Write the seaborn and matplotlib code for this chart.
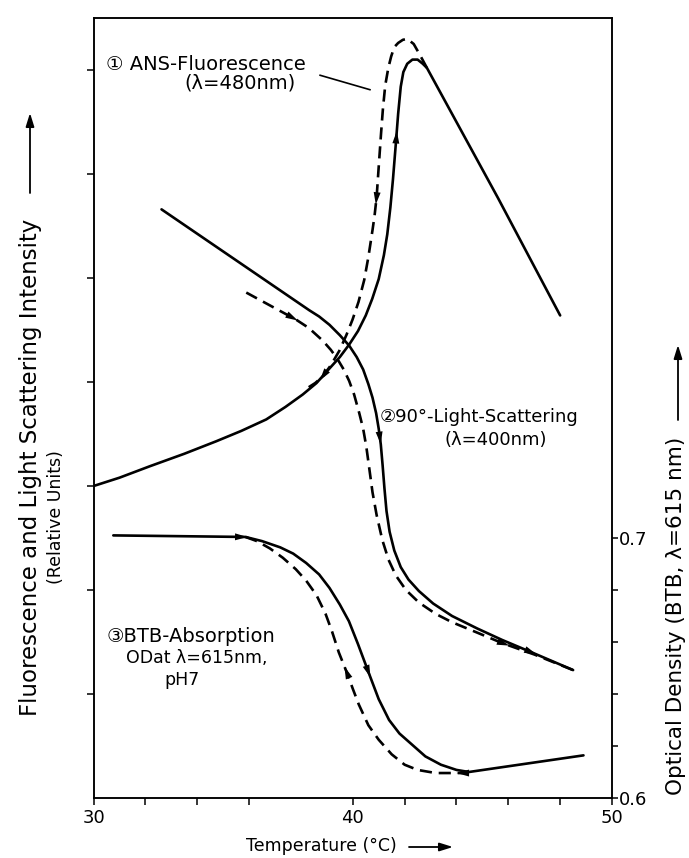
import matplotlib
matplotlib.use("Agg")
import matplotlib.pyplot as plt
import seaborn as sns

# ---------------- data ----------------
temp_ticks = [30, 32, 34, 36, 40, 42, 44, 46, 48, 50]
temp_labels = ["30", "", "", "", "40", "", "", "", "", "50"]
rel_ticks = [1, 2, 3, 4, 5, 6, 7]
od_ticks = [0.6, 0.62, 0.64, 0.66, 0.68, 0.7]
od_labels = ["0.6", "", "", "", "", "0.7"]

# (1) ANS fluorescence, heating (solid), relative units
ans_heat_t = [30.0, 31.0, 32.17, 33.5, 34.73, 35.7, 36.66, 37.4, 38.07, 38.6, 39.1, 39.5,
              39.86, 40.2, 40.5, 40.75, 41.0, 41.2, 41.33, 41.45, 41.55, 41.65, 41.75,
              41.85, 41.95, 42.1, 42.3, 42.5, 42.7, 42.86, 45.6, 48.0]
ans_heat_v = [3.0, 3.08, 3.19, 3.31, 3.43, 3.53, 3.64, 3.76, 3.88, 3.99, 4.13, 4.24,
              4.36, 4.49, 4.64, 4.80, 4.99, 5.22, 5.42, 5.68, 5.95, 6.26, 6.58,
              6.84, 6.98, 7.06, 7.10, 7.10, 7.06, 7.02, 5.77, 4.64]
# (1) ANS fluorescence, cooling (dashed)
ans_cool_t = [42.86, 42.6, 42.35, 42.1, 41.93, 41.75, 41.6, 41.48, 41.37, 41.25, 41.16,
              41.09, 41.0, 40.92, 40.84, 40.76, 40.6, 40.44, 40.22, 39.99, 39.75, 39.48,
              39.15, 38.83, 38.55, 38.3]
ans_cool_v = [7.02, 7.14, 7.25, 7.30, 7.29, 7.26, 7.22, 7.13, 7.02, 6.85, 6.62,
              6.39, 6.07, 5.78, 5.60, 5.46, 5.20, 4.98, 4.77, 4.60, 4.45, 4.30,
              4.16, 4.05, 3.99, 3.95]

# (2) 90 deg light scattering, heating (solid)
sc_heat_t = [32.62, 38.32, 38.7, 39.1, 39.5, 39.86, 40.15, 40.4, 40.6, 40.76, 40.9, 41.0,
             41.08, 41.15, 41.22, 41.3, 41.42, 41.6, 41.85, 42.15, 42.55, 43.1, 43.83,
             44.8, 45.76, 47.0, 48.5]
sc_heat_v = [5.66, 4.69, 4.63, 4.55, 4.45, 4.35, 4.24, 4.12, 3.98, 3.85, 3.70, 3.55,
             3.40, 3.20, 2.98, 2.76, 2.56, 2.38, 2.22, 2.10, 1.99, 1.87, 1.75,
             1.63, 1.52, 1.39, 1.23]
# (2) light scattering, cooling (dashed)
sc_cool_t = [35.89, 37.81, 38.3, 38.83, 39.15, 39.41, 39.65, 39.86, 40.05, 40.25, 40.4,
             40.52, 40.63, 40.76, 40.92, 41.14, 41.38, 41.66, 42.05, 42.55, 43.2, 43.83,
             44.8, 45.76, 47.0, 48.5]
sc_cool_v = [4.86, 4.60, 4.52, 4.40, 4.31, 4.22, 4.12, 4.01, 3.88, 3.70, 3.55,
             3.38, 3.18, 2.94, 2.72, 2.48, 2.29, 2.14, 2.00, 1.88, 1.77, 1.69,
             1.59, 1.49, 1.38, 1.23]

# (3) BTB absorption (OD at 615 nm), heating (solid)
btb_heat_t = [30.76, 35.86, 36.5, 37.2, 37.7, 38.2, 38.7, 39.1, 39.5, 39.85, 40.2, 40.62,
              41.0, 41.4, 41.8, 42.3, 42.8, 43.4, 44.0, 44.48, 48.9]
btb_heat_od = [0.701, 0.7004, 0.6988, 0.6964, 0.694, 0.6904, 0.686, 0.6808, 0.6744, 0.668,
               0.6592, 0.648, 0.638, 0.630, 0.6248, 0.6204, 0.616, 0.6128, 0.6108, 0.610,
               0.6164]
# (3) BTB absorption, cooling (dashed)
btb_cool_t = [35.86, 36.3, 36.8, 37.3, 37.8, 38.2, 38.6, 38.95, 39.2, 39.46, 39.78, 40.0,
              40.23, 40.6, 41.0, 41.5, 42.0, 42.5, 43.2, 44.35]
btb_cool_od = [0.7004, 0.6988, 0.696, 0.6924, 0.688, 0.6836, 0.678, 0.6708, 0.664, 0.656,
               0.648, 0.642, 0.636, 0.628, 0.6224, 0.6168, 0.6128, 0.6108, 0.6096, 0.6096]

# ---------------- style ----------------
sns.set_theme(style="ticks")
plt.rcParams["font.family"] = ["DejaVu Sans"]
plt.rcParams.update({"text.color": "black", "axes.labelcolor": "black",
                     "xtick.color": "black", "ytick.color": "black"})

W, H = 689, 858
fig = plt.figure(figsize=(W / 100, H / 100), dpi=100)
ax = fig.add_axes([93.6 / W, 60 / H, 518.4 / W, 780 / H])
ax2 = ax.twinx()

ax.set_xlim(30, 50)
ax.set_ylim(0, 7.5)
ax2.set_ylim(0.6, 0.9)

LW = 1.9
DASH = (0, (4.6, 2.6))


def line(a, t, v, dashed=False):
    kw = dict(color="black", lw=LW, sort=False, estimator=None, legend=False, ax=a)
    if dashed:
        kw["linestyle"] = DASH
    sns.lineplot(x=t, y=v, **kw)


line(ax, ans_heat_t, ans_heat_v)
line(ax, ans_cool_t, ans_cool_v, dashed=True)
line(ax, sc_heat_t, sc_heat_v)
line(ax, sc_cool_t, sc_cool_v, dashed=True)
line(ax2, btb_heat_t, btb_heat_od)
line(ax2, btb_cool_t, btb_cool_od, dashed=True)


def head(a, t, v, i, f, reverse=False, half=6.0):
    """Arrowhead placed on segment i of a series at fraction f."""
    p0 = a.transData.transform((t[i], v[i]))
    p1 = a.transData.transform((t[i + 1], v[i + 1]))
    d = p1 - p0
    d = d / (d ** 2).sum() ** 0.5
    if reverse:
        d = -d
    c = p0 + f * (p1 - p0)
    inv = a.transData.inverted()
    tip = inv.transform(c + half * d)
    tail = inv.transform(c - half * d)
    a.annotate("", xy=tip, xytext=tail,
               arrowprops=dict(arrowstyle="-|>,head_length=0.9,head_width=0.25",
                               mutation_scale=10, lw=0, color="black",
                               shrinkA=0, shrinkB=0))


head(ax, ans_heat_t, ans_heat_v, 21, 0.3)
head(ax, ans_cool_t, ans_cool_v, 13, 0.1)
head(ax, ans_cool_t, ans_cool_v, 22, 0.9)
head(ax, sc_heat_t, sc_heat_v, 11, 0.6)
head(ax, sc_heat_t, sc_heat_v, 24, 0.9)
head(ax, sc_cool_t, sc_cool_v, 0, 0.93)
head(ax, sc_cool_t, sc_cool_v, 23, 0.05)
head(ax2, btb_heat_t, btb_heat_od, 0, 0.97)
head(ax2, btb_heat_t, btb_heat_od, 10, 0.95)
head(ax2, btb_cool_t, btb_cool_od, 9, 0.95, reverse=True)
head(ax2, btb_cool_t, btb_cool_od, 18, 0.9, reverse=True)

# ---------------- axes / ticks ----------------
ax.set_xticks(temp_ticks)
ax.set_xticklabels(temp_labels)
ax.set_yticks(rel_ticks)
ax.set_yticklabels([])
ax2.set_yticks(od_ticks)
ax2.set_yticklabels(od_labels)
ax.set_xlabel("")
ax.set_ylabel("")
ax2.set_ylabel("")

for a in (ax, ax2):
    for s in a.spines.values():
        s.set_linewidth(1.1)
        s.set_color("black")
        s.set_visible(True)
ax.tick_params(axis="x", direction="out", length=5, width=1.1, labelsize=13, pad=3)
ax.tick_params(axis="y", direction="out", length=5, width=1.1)
ax2.tick_params(axis="y", direction="out", length=4, width=1.1, labelsize=13, pad=1)

# ---------------- annotations ----------------
ax.text(30.48, 7.05, "\u2460 ANS-Fluorescence", fontsize=14, ha="left", va="center")
ax.text(35.65, 6.875, "(\u03bb=480nm)", fontsize=14, ha="center", va="center")
ax.annotate("", xy=(40.67, 6.81), xytext=(38.73, 6.95),
            arrowprops=dict(arrowstyle="-", lw=1.2, color="black", shrinkA=0, shrinkB=0))

ax.text(41.02, 3.66, "\u246190\u00b0-Light-Scattering", fontsize=13, ha="left", va="center")
ax.text(45.53, 3.44, "(\u03bb=400nm)", fontsize=13, ha="center", va="center")

ax.text(30.49, 1.55, "\u2462BTB-Absorption", fontsize=14, ha="left", va="center")
ax.text(33.98, 1.346, "ODat \u03bb=615nm,", fontsize=12.5, ha="center", va="center")
ax.text(33.4, 1.13, "pH7", fontsize=12.5, ha="center", va="center")

# axis titles (with arrows)
fig.text(31 / W, 1 - 467 / H, "Fluorescence and Light Scattering Intensity",
         rotation=90, fontsize=16.5, ha="center", va="center")
fig.text(56 / W, 1 - 517 / H, "(Relative Units)", rotation=90, fontsize=12.5,
         ha="center", va="center")
fig.text(676 / W, 1 - 616 / H, "Optical Density (BTB, \u03bb=615 nm)",
         rotation=90, fontsize=15.5, ha="center", va="center")
fig.text(321 / W, 1 - 846 / H, "Temperature (\u00b0C)", fontsize=12.5,
         ha="center", va="center")

arrow_kw = dict(arrowstyle="-|>,head_length=0.8,head_width=0.25", mutation_scale=10,
                lw=1.3, color="black", shrinkA=0, shrinkB=0)
ax.annotate("", xy=(30 / W, 1 - 113 / H), xycoords="figure fraction",
            xytext=(30 / W, 1 - 193 / H), textcoords="figure fraction",
            arrowprops=arrow_kw, annotation_clip=False)
ax.annotate("", xy=(678 / W, 1 - 345 / H), xycoords="figure fraction",
            xytext=(678 / W, 1 - 420 / H), textcoords="figure fraction",
            arrowprops=arrow_kw, annotation_clip=False)
ax.annotate("", xy=(453 / W, 1 - 847 / H), xycoords="figure fraction",
            xytext=(409 / W, 1 - 847 / H), textcoords="figure fraction",
            arrowprops=arrow_kw, annotation_clip=False)

fig.savefig("out.png", dpi=100, facecolor="white")
